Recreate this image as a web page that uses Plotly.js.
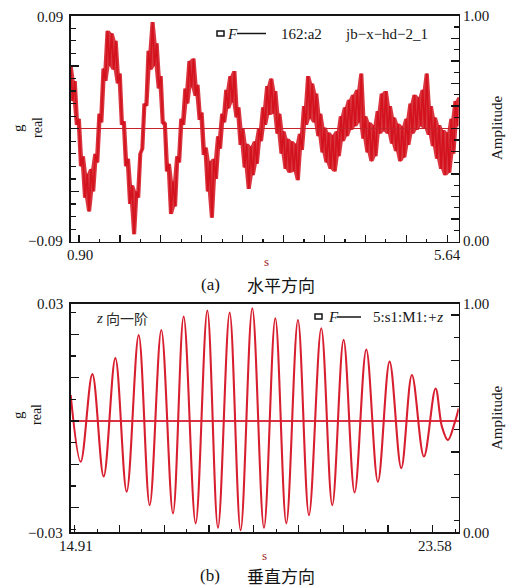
<!DOCTYPE html>
<html><head><meta charset="utf-8">
<script src="https://cdn.plot.ly/plotly-3.0.1.min.js"></script>
<style>html,body{margin:0;padding:0;background:#fff}</style>
</head><body>
<div id="chart" style="width:510px;height:588px"></div>
<script>
// (a) horizontal direction: time (s) and acceleration g_real
const topTime = [
0.900,0.925,0.950,0.975,1.000,1.025,1.050,1.075,1.100,1.125,
1.150,1.175,1.200,1.225,1.250,1.275,1.300,1.325,1.350,1.375,
1.400,1.425,1.450,1.475,1.500,1.525,1.550,1.575,1.600,1.625,
1.650,1.675,1.700,1.725,1.750,1.775,1.800,1.825,1.850,1.875,
1.900,1.925,1.950,1.975,2.000,2.025,2.050,2.075,2.100,2.125,
2.150,2.175,2.200,2.225,2.250,2.275,2.300,2.325,2.350,2.375,
2.400,2.425,2.450,2.475,2.500,2.525,2.550,2.575,2.600,2.625,
2.650,2.675,2.700,2.725,2.750,2.775,2.800,2.825,2.850,2.875,
2.900,2.925,2.950,2.975,3.000,3.025,3.050,3.075,3.100,3.125,
3.150,3.175,3.200,3.225,3.250,3.275,3.300,3.325,3.350,3.375,
3.400,3.425,3.450,3.475,3.500,3.525,3.550,3.575,3.600,3.625,
3.650,3.675,3.700,3.725,3.750,3.775,3.800,3.825,3.850,3.875,
3.900,3.925,3.950,3.975,4.000,4.025,4.050,4.075,4.100,4.125,
4.150,4.175,4.200,4.225,4.250,4.275,4.300,4.325,4.350,4.375,
4.400,4.425,4.450,4.475,4.500,4.525,4.550,4.575,4.600,4.625,
4.650,4.675,4.700,4.725,4.750,4.775,4.800,4.825,4.850,4.875,
4.900,4.925,4.950,4.975,5.000,5.025,5.050,5.075,5.100,5.125,
5.150,5.175,5.200,5.225,5.250,5.275,5.300,5.325,5.350,5.375,
5.400,5.425,5.450,5.475,5.500,5.525,5.550,5.575,5.600,5.625,
5.640];
const topAccel = [
0.050,0.022,0.038,0.003,0.008,-0.030,-0.022,-0.055,-0.036,-0.066,
-0.032,-0.050,-0.020,-0.027,0.012,0.005,0.048,0.038,0.078,0.050,
0.076,0.047,0.070,0.036,0.044,0.003,0.006,-0.030,-0.024,-0.060,
-0.045,-0.084,-0.050,-0.055,-0.020,-0.016,0.020,0.018,0.062,0.047,
0.085,0.050,0.068,0.032,0.042,0.004,0.005,-0.034,-0.028,-0.068,
-0.042,-0.062,-0.022,-0.027,0.008,0.003,0.032,0.020,0.054,0.033,
0.056,0.026,0.035,0.007,0.013,-0.021,-0.015,-0.050,-0.026,-0.071,
-0.024,-0.040,-0.006,-0.016,0.012,0.005,0.031,0.016,0.042,0.021,
0.046,0.009,0.017,-0.013,0.000,-0.031,-0.012,-0.048,-0.014,-0.037,
-0.010,-0.028,0.000,-0.010,0.017,0.003,0.034,0.011,0.040,0.012,
0.030,-0.004,0.012,-0.020,-0.002,-0.032,-0.008,-0.035,-0.010,-0.034,
-0.012,-0.041,-0.004,-0.017,0.018,0.003,0.042,0.008,0.036,0.005,
0.028,-0.006,0.012,-0.019,0.001,-0.027,-0.003,-0.032,-0.005,-0.034,
-0.002,-0.022,0.010,-0.010,0.017,-0.006,0.023,-0.001,0.027,0.002,
0.031,0.005,0.044,-0.008,0.010,-0.019,0.005,-0.026,0.003,-0.022,
0.014,-0.004,0.028,-0.002,0.030,-0.004,0.018,-0.012,0.009,-0.018,
0.004,-0.026,0.002,-0.023,0.008,-0.013,0.020,-0.004,0.027,-0.001,
0.025,0.002,0.031,0.000,0.044,-0.005,0.018,-0.014,0.009,-0.024,
0.003,-0.032,-0.001,-0.037,-0.003,-0.035,0.008,-0.020,0.022,0.002,
0.025];

// (b) vertical direction: peaks and troughs
const botTime = [14.910,15.133,15.394,15.647,15.908,16.161,16.429,16.675,16.935,17.196,
17.434,17.702,17.963,18.201,18.462,18.707,18.968,19.229,19.482,19.728,
19.988,20.234,20.509,20.755,21.008,21.254,21.515,21.775,22.036,22.297,
22.535,22.803,23.063,23.205,23.339,23.488,23.580];
const botAccel = [0.0060,-0.0094,0.0108,-0.0128,0.0145,-0.0163,0.0198,-0.0194,0.0210,-0.0213,
0.0241,-0.0236,0.0255,-0.0246,0.0250,-0.0252,0.0260,-0.0246,0.0237,-0.0236,
0.0233,-0.0217,0.0214,-0.0194,0.0187,-0.0165,0.0165,-0.0140,0.0137,-0.0109,
0.0106,-0.0082,0.0075,-0.0013,-0.0044,-0.0005,0.0029];

const topRangeX = [0.90, 5.64];
const topRangeY = [-0.09, 0.09];
const botRangeX = [14.91, 23.58];
const botRangeY = [-0.0256, 0.0271];
const topXLabels = ['0.90', '5.64'];
const topYLabels = ['\u22120.09', '0.09'];
const botXLabels = ['14.91', '23.58'];
const botYLabels = ['\u22120.03', '0.03'];
const ampLabels = ['0.00', '1.00'];

// noise band of the (a) record: local hull of the read samples
const topHi = topAccel.map((v, i) => Math.max(v, topAccel[i - 1] ?? v, topAccel[i + 1] ?? v));
const topLo = topAccel.map((v, i) => Math.min(v, topAccel[i - 1] ?? v, topAccel[i + 1] ?? v));

const W = 510, H = 588;
const px = v => v / W;
const py = v => 1 - v / H;
const FONT = '"Times New Roman", "Liberation Serif", "DejaVu Serif", serif';
const CJK = '"Noto Sans CJK SC", sans-serif';
const INK = '#151515';
const RED = '#d3121d';

const dx = [px(70.7), px(458.7)];
const topDom = [py(241.7), py(15.7)];
const botDom = [py(532), py(303.5)];

const base = {showgrid:false, zeroline:false, showline:true, linecolor:INK, linewidth:1.6,
  ticks:'inside', tickcolor:INK, tickwidth:1.4, showticklabels:false, fixedrange:true};
const minor = (t0, d, len) => ({ticks:'inside', tick0:t0, dtick:d, ticklen:len, tickcolor:INK, tickwidth:1.2});

const traces = [
  {x: topTime, y: topLo, xaxis:'x', yaxis:'y', mode:'lines', type:'scatter',
   line:{color:'rgba(0,0,0,0)', width:0}, hoverinfo:'skip'},
  {x: topTime, y: topHi, xaxis:'x', yaxis:'y', mode:'lines', type:'scatter', fill:'tonexty',
   fillcolor:'rgba(211,18,29,0.85)', line:{color:'rgba(0,0,0,0)', width:0}, hoverinfo:'skip'},
  {x: topTime, y: topAccel, xaxis:'x', yaxis:'y', mode:'lines', type:'scatter',
   line:{color:RED, width:1.6}, hoverinfo:'skip'},
  {x: [], y: [], xaxis:'x', yaxis:'y2', mode:'lines', type:'scatter', hoverinfo:'skip'},
  {x: botTime, y: botAccel, xaxis:'x2', yaxis:'y3', mode:'lines', type:'scatter',
   line:{color:'#d81f30', width:2.1, shape:'spline', smoothing:1}, hoverinfo:'skip'},
  {x: [], y: [], xaxis:'x2', yaxis:'y4', mode:'lines', type:'scatter', hoverinfo:'skip'}
];

function ann(text, x, y, o) {
  return Object.assign({text, x, y, xref:'paper', yref:'paper', showarrow:false,
    xanchor:'center', yanchor:'middle', font:{family:FONT, size:15, color:INK}}, o || {});
}

const annotations = [
  // top panel
  ann(topYLabels[1], px(65), py(17), {xanchor:'right'}),
  ann(topYLabels[0], px(65), py(241), {xanchor:'right'}),
  ann(ampLabels[1], px(461), py(16), {xanchor:'left'}),
  ann(ampLabels[0], px(461), py(241), {xanchor:'left'}),
  ann(topXLabels[0], px(80), py(255)),
  ann(topXLabels[1], px(447), py(255)),
  ann('s', px(266), py(262), {font:{family:FONT, size:13, color:'#9a1c1c'}}),
  ann('(a)', px(210), py(284), {font:{family:FONT, size:17, color:INK}}),
  ann('水平方向', px(281), py(284), {font:{family:CJK, size:17, color:INK}}),
  ann('g', px(18), py(128), {textangle:-90}),
  ann('real', px(37), py(128), {textangle:-90, font:{family:FONT, size:14, color:INK}}),
  ann('Amplitude', px(497), py(128), {textangle:-90}),
  ann('<i>F</i>', px(232), py(34)),
  ann('162:a2', px(279), py(34), {xanchor:'left'}),
  ann('jb\u2212x\u2212hd\u22122_1', px(343), py(34), {xanchor:'left'}),
  // bottom panel
  ann(botYLabels[1], px(65), py(304), {xanchor:'right'}),
  ann(botYLabels[0], px(65), py(533), {xanchor:'right'}),
  ann(ampLabels[1], px(461), py(304), {xanchor:'left'}),
  ann(ampLabels[0], px(461), py(533), {xanchor:'left'}),
  ann(botXLabels[0], px(76), py(546)),
  ann(botXLabels[1], px(435), py(546)),
  ann('s', px(264), py(555), {font:{family:FONT, size:13, color:'#9a1c1c'}}),
  ann('(b)', px(210), py(575), {font:{family:FONT, size:17, color:INK}}),
  ann('垂直方向', px(281), py(575), {font:{family:CJK, size:17, color:INK}}),
  ann('g', px(18), py(415), {textangle:-90}),
  ann('real', px(37), py(415), {textangle:-90, font:{family:FONT, size:14, color:INK}}),
  ann('Amplitude', px(497), py(418), {textangle:-90}),
  ann('<i>z</i>', px(99), py(318), {font:{family:FONT, size:15, color:'#2a2a2a'}}),
  ann('向一阶', px(127), py(318), {font:{family:CJK, size:14, color:'#2a2a2a'}}),
  ann('<i>F</i>', px(333), py(317)),
  ann('5:s1:M1:<i>+z</i>', px(371), py(317), {xanchor:'left'})
];

const shapes = [
  {type:'rect', xref:'paper', yref:'paper', x0:px(217), x1:px(224), y0:py(36), y1:py(31), line:{color:INK, width:1.5}},
  {type:'line', xref:'paper', yref:'paper', x0:px(237), x1:px(266), y0:py(33.5), y1:py(33.5), line:{color:INK, width:1.5}},
  {type:'rect', xref:'paper', yref:'paper', x0:px(315), x1:px(322), y0:py(319), y1:py(314), line:{color:INK, width:1.5}},
  {type:'line', xref:'paper', yref:'paper', x0:px(337), x1:px(361), y0:py(317), y1:py(317), line:{color:INK, width:1.5}}
];

const layout = {
  width:W, height:H, margin:{l:0, r:0, t:0, b:0}, paper_bgcolor:'#fff', plot_bgcolor:'#fff',
  showlegend:false, annotations, shapes, font:{family:FONT},
  xaxis: Object.assign({}, base, {domain:dx, anchor:'y', range:topRangeX, tick0:1, dtick:0.5, ticklen:7,
    minor:minor(1, 0.25, 3), mirror:true}),
  yaxis: Object.assign({}, base, {domain:topDom, anchor:'x', range:topRangeY, tick0:0, dtick:0.05, ticklen:8,
    minor:minor(0, 0.01, 5), zeroline:true, zerolinecolor:'#c4232c', zerolinewidth:1.2, zerolinelayer:'above traces', mirror:true}),
  yaxis2: Object.assign({}, base, {overlaying:'y', side:'right', anchor:'x', range:[0,1], tick0:0, dtick:0.1, ticklen:8,
    minor:minor(0, 0.05, 5)}),
  xaxis2: Object.assign({}, base, {domain:dx, anchor:'y3', range:botRangeX, tick0:15, dtick:1, ticklen:7,
    minor:minor(15, 0.5, 3), mirror:true}),
  yaxis3: Object.assign({}, base, {domain:botDom, anchor:'x2', range:botRangeY, tick0:0, dtick:0.01, ticklen:8,
    minor:minor(0, 0.005, 5), zeroline:true, zerolinecolor:'#dc3344', zerolinewidth:2.2, mirror:true}),
  yaxis4: Object.assign({}, base, {overlaying:'y3', side:'right', anchor:'x2', range:[0,1], tick0:0.15, dtick:0.2, ticklen:8,
    minor:minor(0.05, 0.1, 5)})
};

Plotly.newPlot('chart', traces, layout, {staticPlot:true, displayModeBar:false});
</script>
</body></html>
